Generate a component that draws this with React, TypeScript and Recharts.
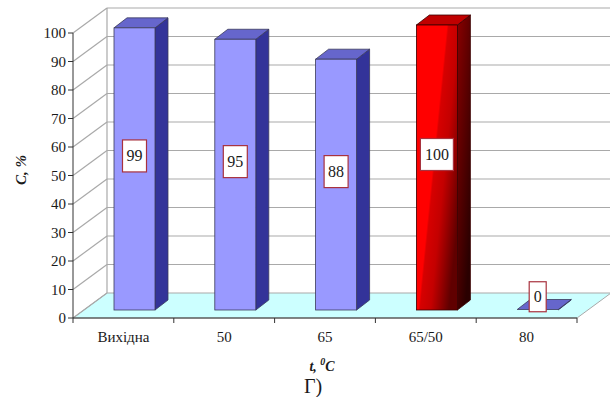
import React from 'react';
import { BarChart, Bar, XAxis, YAxis, LabelList, CartesianGrid } from 'recharts';

// Samples by treatment temperature and their C, % value
const categories = ['Вихідна', '50', '65', '65/50', '80'];
const values = [99, 95, 88, 100, 0];
const yTicks = [0, 10, 20, 30, 40, 50, 60, 70, 80, 90, 100];
const highlightCategory = '65/50';

const data = categories.map((category, i) => ({ category, value: values[i] }));

// Layout
const W = 610;
const H = 397;
const PLOT_LEFT = 73;
const PLOT_RIGHT = 577;
const PLOT_TOP = 33;
const PLOT_BOTTOM = 318;
const BAND = (PLOT_RIGHT - PLOT_LEFT) / categories.length;

// Pseudo-3D depth of the box (walls/floor) and of each bar
const DX = 34;
const DY = 25;
const FX = 11; // bar front face set back into the floor
const FY = 8;
const BDX = 13; // bar depth
const BDY = 10;

const FONT = "'Liberation Serif', 'Times New Roman', serif";
const GRID = '#a9a9a9';
const txt = { fontFamily: FONT };

// Side wall, back wall and floor, drawn from each horizontal grid line
const WallLine = (props: any) => {
  const { y1 } = props;
  const y = y1;
  const bx = PLOT_LEFT + DX;
  const by = y - DY;
  const isFloor = Math.abs(y - PLOT_BOTTOM) < 0.5;
  const isTop = Math.abs(y - PLOT_TOP) < 0.5;
  return (
    <g key={props.key}>
      {isFloor && (
        <polygon
          points={`${PLOT_LEFT},${y} ${bx},${by} ${PLOT_RIGHT + DX},${by} ${PLOT_RIGHT},${y}`}
          fill="#ccffff"
          stroke={GRID}
          strokeWidth={1}
        />
      )}
      <line x1={PLOT_LEFT} y1={y} x2={bx} y2={by} stroke={GRID} strokeWidth={1.2} />
      {!isFloor && <line x1={bx} y1={by} x2={W + 2} y2={by} stroke={GRID} strokeWidth={1.2} />}
      {isTop && <line x1={bx} y1={by} x2={bx} y2={PLOT_BOTTOM - DY} stroke={GRID} strokeWidth={1.2} />}
    </g>
  );
};

const YTick = (props: any) => {
  const { y, payload } = props;
  return (
    <g>
      <line x1={PLOT_LEFT - 5} y1={y} x2={PLOT_LEFT} y2={y} stroke="#333" strokeWidth={1} />
      <text
        x={PLOT_LEFT - 7}
        y={y}
        textAnchor="end"
        dominantBaseline="central"
        style={txt}
        fontSize={15}
        fill="#1a1a1a"
      >
        {payload.value}
      </text>
    </g>
  );
};

const XTick = (props: any) => {
  const { x, payload, index } = props;
  return (
    <g>
      {index === 0 && (
        <line x1={x - BAND / 2} y1={PLOT_BOTTOM} x2={x - BAND / 2} y2={PLOT_BOTTOM + 5} stroke="#333" />
      )}
      <line x1={x + BAND / 2} y1={PLOT_BOTTOM} x2={x + BAND / 2} y2={PLOT_BOTTOM + 5} stroke="#333" />
      <text x={x} y={PLOT_BOTTOM + 24} textAnchor="middle" style={txt} fontSize={15} fill="#1a1a1a">
        {payload.value}
      </text>
    </g>
  );
};

const Bar3D = (props: any) => {
  const { x, y, width, height, payload } = props;
  const hot = payload.category === highlightCategory;
  const fx = x + FX;
  const ty = y - FY;
  const bty = y + height - FY;
  const fw = width;
  const edge = hot ? '#3a0000' : '#3a3a5a';
  const front = hot ? 'url(#redFront)' : '#9999ff';
  const side = hot ? 'url(#redSide)' : '#333399';
  const top = hot ? '#c00000' : '#6666cc';
  return (
    <g>
      <polygon
        points={`${fx + fw},${ty} ${fx + fw + BDX},${ty - BDY} ${fx + fw + BDX},${bty - BDY} ${fx + fw},${bty}`}
        fill={side}
        stroke={edge}
        strokeWidth={0.8}
      />
      <polygon
        points={`${fx},${ty} ${fx + BDX},${ty - BDY} ${fx + fw + BDX},${ty - BDY} ${fx + fw},${ty}`}
        fill={top}
        stroke={edge}
        strokeWidth={0.8}
      />
      {height > 1 && (
        <rect x={fx} y={ty} width={fw} height={height} fill={front} stroke={edge} strokeWidth={0.8} />
      )}
    </g>
  );
};

const ValueLabel = (props: any) => {
  const { x, y, width, height, value } = props;
  const text = String(value);
  const bw = text.length === 1 ? 17 : text.length === 2 ? 24 : 33;
  const bh = text.length === 1 ? 30 : 32;
  const cx = x + FX + width / 2;
  const cy = y + height / 2 - FY - 13;
  return (
    <g>
      <rect x={cx - bw / 2} y={cy - bh / 2} width={bw} height={bh} fill="#fff" stroke="#a8323e" strokeWidth={1.2} />
      <text
        x={cx}
        y={cy}
        textAnchor="middle"
        dominantBaseline="central"
        style={txt}
        fontSize={16}
        fill="#1a1a1a"
      >
        {text}
      </text>
    </g>
  );
};

export default function App() {
  return (
    <div style={{ position: 'absolute', left: 0, top: 0, width: W, height: H, background: '#fff', fontFamily: FONT }}>
      <BarChart
        width={W}
        height={H}
        data={data}
        margin={{ top: PLOT_TOP, right: W - PLOT_RIGHT, bottom: 0, left: 0 }}
        barSize={41}
        style={txt}
      >
        <defs>
          <linearGradient id="redFront" x1="0" y1="0" x2="1" y2="0.7">
            <stop offset="0" stopColor="#ff0000" />
            <stop offset="0.5" stopColor="#ff0000" />
            <stop offset="0.53" stopColor="#d60000" />
            <stop offset="0.7" stopColor="#c40000" />
            <stop offset="0.83" stopColor="#9a0000" />
            <stop offset="1" stopColor="#600000" />
          </linearGradient>
          <linearGradient id="redSide" x1="0" y1="0" x2="0.6" y2="1">
            <stop offset="0" stopColor="#8a0000" />
            <stop offset="1" stopColor="#2a0000" />
          </linearGradient>
        </defs>
        <CartesianGrid vertical={false} horizontal={(p: any) => <WallLine {...p} />} />
        <YAxis
          width={PLOT_LEFT}
          domain={[0, 100]}
          ticks={yTicks}
          interval={0}
          tick={<YTick />}
          tickLine={false}
          axisLine={{ stroke: '#333', strokeWidth: 1 }}
        />
        <XAxis
          dataKey="category"
          height={H - PLOT_BOTTOM}
          interval={0}
          tick={<XTick />}
          tickLine={false}
          axisLine={{ stroke: '#333', strokeWidth: 1 }}
        />
        <Bar dataKey="value" isAnimationActive={false} minPointSize={0.5} shape={<Bar3D />}>
          <LabelList dataKey="value" content={<ValueLabel />} />
        </Bar>
        <text
          transform="translate(21,170) rotate(-90)"
          textAnchor="middle"
          dominantBaseline="central"
          style={txt}
          fontSize={15}
          fontWeight="bold"
          fontStyle="italic"
          fill="#1a1a1a"
        >
          C, %
        </text>
        <text x={322} y={371} textAnchor="middle" style={txt} fontWeight="bold" fontStyle="italic" fill="#1a1a1a">
          <tspan fontSize={14}>t, </tspan>
          <tspan fontSize={10} dy={-6}>0</tspan>
          <tspan fontSize={14} dy={6}>C</tspan>
        </text>
        <text x={313} y={393} textAnchor="middle" style={txt} fontSize={20} fill="#1a1a1a">
          Г)
        </text>
      </BarChart>
    </div>
  );
}
